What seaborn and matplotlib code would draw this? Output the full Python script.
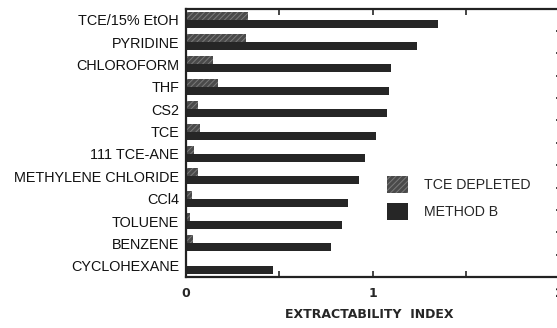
import matplotlib
matplotlib.use('Agg')
import matplotlib.pyplot as plt
import pandas as pd
import seaborn as sns
from matplotlib.ticker import MultipleLocator, FixedLocator

# solventes e indices
solventes = ['TCE/15% EtOH', 'PYRIDINE', 'CHLOROFORM', 'THF', 'CS2', 'TCE',
             '111 TCE-ANE', 'METHYLENE CHLORIDE', 'CCl4', 'TOLUENE',
             'BENZENE', 'CYCLOHEXANE']
tce_depleted = [0.33, 0.32, 0.145, 0.17, 0.065, 0.075, 0.045, 0.065, 0.03, 0.02, 0.04, 0.0]
method_b = [1.35, 1.24, 1.10, 1.09, 1.08, 1.02, 0.96, 0.925, 0.87, 0.835, 0.78, 0.465]
series = ['TCE DEPLETED', 'METHOD B']

df = pd.DataFrame({
    'solvente': solventes * 2,
    'indice': tce_depleted + method_b,
    'serie': [series[0]] * len(solventes) + [series[1]] * len(solventes),
})

sns.set_style('ticks')
plt.rcParams['font.family'] = ['Liberation Sans', 'DejaVu Sans']
plt.rcParams['hatch.linewidth'] = 0.7

fig = plt.figure(figsize=(5.57, 3.28), dpi=100)
ax = fig.add_axes([186 / 557, 1 - 277 / 328, (559 - 186) / 557, (277 - 8.5) / 328])

sns.barplot(data=df, y='solvente', x='indice', hue='serie', hue_order=series,
            palette=['#4a4a4a', '#262626'], orient='h', width=0.72,
            saturation=1, ax=ax, legend=False)

# barras hachuradas para TCE DEPLETED
for p in ax.containers[0]:
    p.set_hatch('//////')
    p.set_edgecolor('#7a7a7a')
    p.set_linewidth(0)
for p in ax.containers[1]:
    p.set_linewidth(0)

ax.set_xlim(0, 2)
ax.set_ylim(11.5, -0.5)
ax.xaxis.set_major_locator(FixedLocator([0, 1, 2]))
ax.xaxis.set_minor_locator(MultipleLocator(0.5))
ax.yaxis.set_minor_locator(FixedLocator([k + 0.5 for k in range(11)]))
ax.tick_params(axis='x', which='both', direction='in', top=True, bottom=True, length=4, width=1.2)
ax.tick_params(axis='y', which='major', length=0, pad=5)
ax.tick_params(axis='y', which='minor', direction='in', left=False, right=True, length=2.5, width=1.2)
ax.set_yticks(range(len(solventes)))
ax.set_yticklabels(solventes, fontsize=10.4, color='#111111')
ax.set_xticklabels(['0', '1', '2'], fontsize=9, fontweight='bold', family='DejaVu Sans')
ax.tick_params(axis='x', pad=7)
ax.set_ylabel('')
ax.set_xlabel('EXTRACTABILITY  INDEX', fontsize=9, fontweight='bold', family='DejaVu Sans')
ax.xaxis.set_label_coords(0.492, -0.115)
for s in ax.spines.values():
    s.set_linewidth(1.6)
    s.set_color('#222222')

ax.legend(handles=[ax.containers[0], ax.containers[1]], labels=series,
          loc='upper left', bbox_to_anchor=(0.54, 0.375), frameon=False,
          fontsize=10.2, handlelength=1.45, handleheight=1.45,
          handletextpad=1.1, labelspacing=0.7, borderpad=0, borderaxespad=0)

fig.savefig('out.png', dpi=100)
